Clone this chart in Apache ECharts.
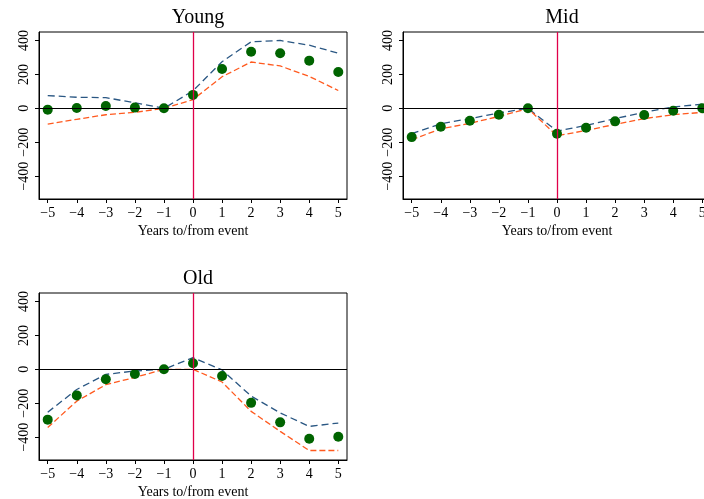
<!DOCTYPE html>
<html>
<head>
<meta charset="utf-8">
<script src="https://cdn.jsdelivr.net/npm/echarts@6/dist/echarts.min.js"></script>
<style>
    html, body { margin: 0; padding: 0; background: #fff; }
    #main { width: 704px; height: 499px; }
</style>
</head>
<body>
<div id="main"></div>
<script>
// data
var years = [-5, -4, -3, -2, -1, 0, 1, 2, 3, 4, 5];
var yTicks = [-400, -200, 0, 200, 400];

var youngPoint = [-8, 2, 14, 4, 0, 79, 232, 333, 325, 281, 214];
var youngUpper = [75, 65, 63, 32, 0, 103, 275, 392, 400, 372, 325];
var youngLower = [-93, -65, -38, -24, 0, 51, 186, 273, 250, 188, 105];

var midPoint = [-170, -109, -73, -38, 0, -150, -115, -77, -40, -14, 0];
var midUpper = [-150, -91, -61, -28, 0, -135, -101, -61, -24, 8, 24];
var midLower = [-186, -121, -89, -48, -2, -162, -131, -95, -61, -38, -24];

var oldPoint = [-297, -154, -59, -28, 0, 36, -40, -198, -313, -410, -398];
var oldUpper = [-253, -119, -30, -10, 0, 69, -4, -158, -257, -337, -317];
var oldLower = [-343, -188, -91, -48, 0, 0, -75, -248, -366, -479, -479];

var panels = [
    {title: 'Young', left: 39, top: 32, point: youngPoint, upper: youngUpper, lower: youngLower},
    {title: 'Mid', left: 403, top: 32, point: midPoint, upper: midUpper, lower: midLower},
    {title: 'Old', left: 39, top: 293, point: oldPoint, upper: oldUpper, lower: oldLower}
];

var font = 'Liberation Serif';

function pairs(values) {
    return years.map(function (x, i) { return [x, values[i]]; });
}

function minus(v) {
    return v < 0 ? '\u2212' + (-v) : String(v);
}

var option = {
    animation: false,
    backgroundColor: '#fff',
    title: [],
    grid: [],
    xAxis: [],
    yAxis: [],
    series: []
};

panels.forEach(function (p, i) {
    option.title.push({
        text: p.title,
        left: p.left + 154, top: p.top - 29, textAlign: 'center',
        textStyle: {fontFamily: font, fontSize: 20, fontWeight: 'normal', color: '#000'}
    });
    option.grid.push({
        left: p.left, top: p.top, width: 308, height: 167,
        outerBoundsMode: 'none', containLabel: false,
        show: true, borderColor: '#000', borderWidth: 1
    });
    option.xAxis.push({
        gridIndex: i, type: 'value', min: -5.3, max: 5.3,
        name: 'Years to/from event', nameLocation: 'middle', nameGap: 25,
        nameTextStyle: {fontFamily: font, fontSize: 14, color: '#000'},
        axisLine: {onZero: false, lineStyle: {color: '#000'}},
        axisTick: {show: true, length: 4, customValues: years, lineStyle: {color: '#000'}},
        axisLabel: {customValues: years, fontFamily: font, fontSize: 14, color: '#000', margin: 7, formatter: minus},
        splitLine: {show: false}
    });
    option.yAxis.push({
        gridIndex: i, type: 'value', min: -535, max: 450,
        axisLine: {show: true, onZero: false, lineStyle: {color: '#000'}},
        axisTick: {show: true, length: 4, customValues: yTicks, lineStyle: {color: '#000'}},
        axisLabel: {customValues: yTicks, rotate: 90, fontFamily: font, fontSize: 14, color: '#000', margin: 8, formatter: minus},
        splitLine: {show: false}
    });
    option.series.push({
        type: 'line', xAxisIndex: i, yAxisIndex: i, data: pairs(p.upper),
        symbol: 'none', silent: true, z: 3,
        lineStyle: {color: '#2a5783', width: 1.3, type: [7, 4]},
        markLine: {
            silent: true, symbol: 'none', label: {show: false},
            data: [
                {yAxis: 0, lineStyle: {color: '#000', width: 1, type: 'solid'}},
                {xAxis: 0, lineStyle: {color: '#e0004a', width: 1.3, type: 'solid'}}
            ]
        }
    });
    option.series.push({
        type: 'line', xAxisIndex: i, yAxisIndex: i, data: pairs(p.lower),
        symbol: 'none', silent: true, z: 3,
        lineStyle: {color: '#ff5a1f', width: 1.3, type: [6, 3]}
    });
    option.series.push({
        type: 'scatter', xAxisIndex: i, yAxisIndex: i, data: pairs(p.point),
        symbol: 'circle', symbolSize: 10, z: 4,
        itemStyle: {color: '#006400', opacity: 1}
    });
});

var myChart = echarts.init(document.getElementById('main'));
myChart.setOption(option);
</script>
</body>
</html>
